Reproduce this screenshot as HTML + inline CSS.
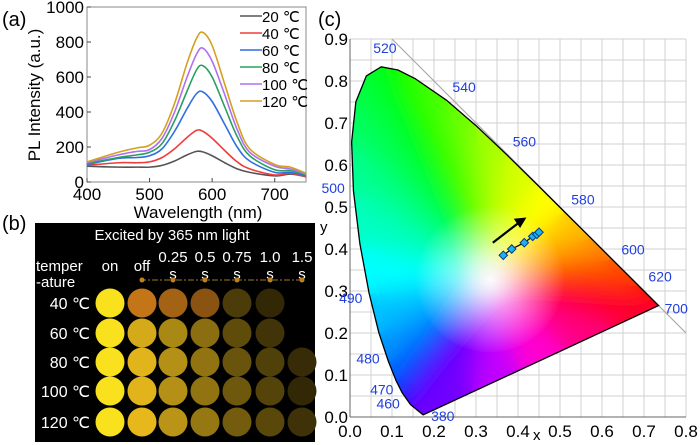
<!DOCTYPE html>
<html><head><meta charset="utf-8"><style>
html,body{margin:0;background:#fff;width:700px;height:445px;overflow:hidden;}
svg{display:block;font-family:"Liberation Sans",sans-serif;}
</style></head><body>
<svg id="s" width="700" height="445" viewBox="0 0 700 445">
<defs>
<filter id="bl" x="0" y="0" width="1" height="1"><feGaussianBlur stdDeviation="12"/></filter>
<clipPath id="lc"><path id="lcp"/></clipPath>
<radialGradient id="wg" gradientUnits="userSpaceOnUse" cx="490" cy="280" r="75"><stop offset="0" stop-color="#fff" stop-opacity="0.95"/><stop offset="1" stop-color="#fff" stop-opacity="0"/></radialGradient>
</defs>
<g id="pa"></g>
<g id="pb"></g>
<g id="pc"></g>
</svg>
<script>
// ---- panel (a) data ----
const wavelengths=[400,450,480,500,520,540,560,575,585,600,620,640,660,700,725,750];
const s20=[90,85,85,85,95,120,155,175,172,150,110,75,55,35,45,30];
const s40=[95,110,110,115,140,190,255,295,290,250,180,115,75,40,50,30];
const s60=[100,135,140,150,190,290,420,505,515,460,330,200,120,55,55,35];
const s80=[105,140,155,170,220,350,520,640,665,600,430,260,150,70,65,40];
const s100=[110,155,175,185,250,400,600,730,765,690,500,300,170,90,75,45];
const s120=[115,170,195,210,280,450,680,820,855,780,560,340,190,100,85,50];
const seriesLabels=["20 ℃","40 ℃","60 ℃","80 ℃","100 ℃","120 ℃"];
const seriesColors=["#555","#f03c3c","#2f6fe0","#2aa060","#b070f0","#d4a020"];
const xTicks=[400,500,600,700];
const yTicks=[0,200,400,600,800,1000];
// ---- panel (b) data ----
const colLabels=["on","off","0.25","0.5","0.75","1.0","1.5"];
const rowLabels=["40 ℃","60 ℃","80 ℃","100 ℃","120 ℃"];
const brightness=[[1,0.78,0.65,0.55,0.3,0.2,0],[1,0.85,0.68,0.55,0.38,0.26,0],[1,0.9,0.72,0.58,0.42,0.32,0.22],[1,0.9,0.72,0.58,0.44,0.34,0.2],[1,0.92,0.74,0.6,0.46,0.36,0.25]];
// ---- panel (c) data ----
const cieX=[0.365,0.385,0.415,0.435,0.445,0.45];
const cieY=[0.385,0.40,0.415,0.43,0.435,0.44];
const cxTicks=[0,0.1,0.2,0.3,0.4,0.5,0.6,0.7,0.8];
const cyTicks=[0,0.1,0.2,0.3,0.4,0.5,0.6,0.7,0.8,0.9];
const locusWl=[380,460,470,475,480,485,490,495,500,505,510,515,520,525,530,540,550,560,570,580,590,600,620,640,700];
const locusX=[0.1741,0.1440,0.1241,0.1096,0.0913,0.0687,0.0454,0.0235,0.0082,0.0039,0.0139,0.0389,0.0743,0.1142,0.1547,0.2296,0.3016,0.3731,0.4441,0.5125,0.5752,0.6270,0.6915,0.7190,0.7347];
const locusY=[0.0050,0.0297,0.0578,0.0868,0.1327,0.2007,0.2950,0.4127,0.5384,0.6548,0.7502,0.8120,0.8338,0.8262,0.8059,0.7543,0.6923,0.6245,0.5547,0.4866,0.4242,0.3725,0.3083,0.2809,0.2653];
const locusCol=["#7000ff","#3000ff","#0030ff","#0060ff","#0090ff","#00c0ff","#00ffff","#00ffc0","#00ff90","#00ff60","#00ff40","#00ff20","#00ff00","#20ff00","#40ff00","#70ff00","#a8ff00","#d8ff00","#ffff00","#ffc000","#ff8800","#ff4400","#ff0000","#ff0010","#ff0020"];
const wlLabels=[380,460,470,480,490,500,520,540,560,580,600,620,700];

const NS="http://www.w3.org/2000/svg";
function mk(p,t,a,txt){const e=document.createElementNS(NS,t);for(const k in a)e.setAttribute(k,a[k]);if(txt!==undefined)e.textContent=txt;p.appendChild(e);return e;}

// ===== panel a =====
const pa=document.getElementById('pa');
const ax=v=>87+(v-400)*(306-87)/350, ay=v=>182-v*(182-7)/1000;
let t=mk(pa,'text',{x:2,y:26,'font-size':20},'(a)');
mk(pa,'rect',{x:87,y:7,width:219,height:175,fill:'none',stroke:'#888','stroke-width':1});
xTicks.forEach(v=>{mk(pa,'line',{x1:ax(v),x2:ax(v),y1:182,y2:178,stroke:'#444'});t=mk(pa,'text',{x:ax(v),y:200,'font-size':17,'text-anchor':'middle'},v);});
yTicks.forEach(v=>{mk(pa,'line',{x1:87,x2:91,y1:ay(v),y2:ay(v),stroke:'#444'});t=mk(pa,'text',{x:84,y:ay(v)+6,'font-size':17,'text-anchor':'end'},v);});
t=mk(pa,'text',{x:198,y:218,'font-size':17,'text-anchor':'middle'},'Wavelength (nm)');
t=mk(pa,'text',{x:0,y:0,'font-size':17,'text-anchor':'middle',transform:'translate(40,95) rotate(-90)'},'PL Intensity (a.u.)');
function smooth(xs,ys){let d=`M${xs[0]},${ys[0]}`;for(let i=0;i<xs.length-1;i++){const x0=xs[Math.max(i-1,0)],y0=ys[Math.max(i-1,0)],x1=xs[i],y1=ys[i],x2=xs[i+1],y2=ys[i+1],x3=xs[Math.min(i+2,xs.length-1)],y3=ys[Math.min(i+2,xs.length-1)];d+=` C${x1+(x2-x0)/6},${y1+(y2-y0)/6} ${x2-(x3-x1)/6},${y2-(y3-y1)/6} ${x2},${y2}`;}return d;}
[s20,s40,s60,s80,s100,s120].forEach((s,i)=>{const p=mk(pa,'path',{d:smooth(wavelengths.map(ax),s.map(ay)),fill:'none',stroke:seriesColors[i],'stroke-width':1.6});
const ly=16+i*17;const g=mk(pa,'g',{});mk(g,'line',{x1:240,x2:262,y1:ly,y2:ly,stroke:seriesColors[i],'stroke-width':1.6});mk(g,'text',{x:262,y:ly+6,'font-size':15},seriesLabels[i]);});

// ===== panel b =====
const pb=document.getElementById('pb');
t=mk(pb,'text',{x:2,y:230,'font-size':20},'(b)');
mk(pb,'rect',{x:35,y:223,width:280,height:219,fill:'#000'});
t=mk(pb,'text',{x:172,y:240,'font-size':15,fill:'#fff','text-anchor':'middle'},'Excited by 365 nm light');
const cx=[110,142,173,205,237,270,302], ry=[303,333,362,391,422];
mk(pb,'text',{x:36,y:271,'font-size':15,fill:'#fff'},'temper');mk(pb,'text',{x:36,y:287,'font-size':15,fill:'#fff'},'-ature');
colLabels.forEach((c,i)=>{if(i<2){t=mk(pb,'text',{x:cx[i],y:271,'font-size':15,fill:'#fff','text-anchor':'middle'},c);}else{t=mk(pb,'text',{x:cx[i],y:262,'font-size':15,fill:'#fff','text-anchor':'middle'},c);mk(pb,'text',{x:cx[i],y:279,'font-size':15,fill:'#fff','text-anchor':'middle'},'s');}});
mk(pb,'line',{x1:140,x2:304,y1:280,y2:280,stroke:'#9a7a20','stroke-dasharray':'6 2 2 2'});
for(let i=1;i<7;i++)mk(pb,'circle',{cx:cx[i],cy:280,r:2.5,fill:'#c08020'});
rowLabels.forEach((r,j)=>{t=mk(pb,'text',{x:90,y:ry[j]+6,'font-size':16,fill:'#fff','text-anchor':'end'},r);
brightness[j].forEach((b,i)=>{if(b<=0)return;const warm=(j===0&&i>0&&i<4)?0.6:(i===0?0.9:0.8);const R=Math.round(250*b),G=Math.round(250*b*warm),B=Math.round(30*b);const c=mk(pb,'circle',{cx:cx[i],cy:ry[j],r:14.5,fill:`rgb(${R},${G},${B})`});});});

// ===== panel c =====
const pc=document.getElementById('pc');
const X=v=>350+v*420, Y=v=>417-v*420;
t=mk(pc,'text',{x:318,y:26,'font-size':20},'(c)');
for(let k=0;k<=16;k++){const v=k*0.05;mk(pc,'line',{x1:X(v),x2:X(v),y1:Y(0.9),y2:Y(0),stroke:'#d0d0d0'});}
for(let k=0;k<=18;k++){const v=k*0.05;mk(pc,'line',{x1:X(0),x2:X(0.8),y1:Y(v),y2:Y(v),stroke:'#d0d0d0'});}
cxTicks.forEach(v=>{t=mk(pc,'text',{x:X(v),y:437,'font-size':17,'text-anchor':'middle'},v.toFixed(1));});
cyTicks.forEach(v=>{t=mk(pc,'text',{x:348,y:Y(v)+6,'font-size':17,'text-anchor':'end'},v.toFixed(1));});
mk(pc,'line',{x1:X(0),x2:X(0),y1:Y(0.9),y2:Y(0),stroke:'#666'});mk(pc,'line',{x1:X(0),x2:X(0.8),y1:Y(0),y2:Y(0),stroke:'#666'});
t=mk(pc,'text',{x:533,y:440,'font-size':15},'x');
t=mk(pc,'text',{x:320,y:232,'font-size':15},'y');
mk(pc,'line',{x1:X(0.1),y1:Y(0.9),x2:X(0.8),y2:Y(0.2),stroke:'#aaa','stroke-width':1.2});
let d=locusX.map((x,i)=>(i?'L':'M')+X(x)+','+Y(locusY[i])).join('')+'Z';
document.getElementById('lcp').setAttribute('d',d);
const fill=mk(pc,'g',{'clip-path':'url(#lc)'});
const wx=X(0.333),wy=Y(0.333);
const S=1.05;
function drawFan(g){
for(let i=0;i<locusX.length-1;i++){const dx=X(locusX[i])-wx,dy=Y(locusY[i])-wy,dx2=X(locusX[i+1])-wx,dy2=Y(locusY[i+1])-wy;mk(g,'polygon',{points:`${wx},${wy} ${wx+dx*S},${wy+dy*S} ${wx+dx2*S},${wy+dy2*S}`,fill:locusCol[i],stroke:locusCol[i],'stroke-width':2});}
const pur=["#ff0030","#ff0080","#ff00d0","#c000ff","#7000ff"];
for(let k=0;k<5;k++){const a=k/5,b=(k+1)/5;const x1=0.7347+(0.1741-0.7347)*a,y1=0.2653+(0.005-0.2653)*a,x2=0.7347+(0.1741-0.7347)*b,y2=0.2653+(0.005-0.2653)*b;const dx=X(x1)-wx,dy=Y(y1)-wy,dx2=X(x2)-wx,dy2=Y(y2)-wy;mk(g,'polygon',{points:`${wx},${wy} ${wx+dx*S},${wy+dy*S} ${wx+dx2*S},${wy+dy2*S}`,fill:pur[k],stroke:pur[k],'stroke-width':2});}
}
drawFan(mk(fill,'g',{}));
drawFan(mk(fill,'g',{filter:'url(#bl)'}));
mk(fill,'circle',{cx:wx,cy:wy,r:75,fill:'url(#wg)'});
const lp=mk(pc,'path',{d:d,fill:'none',stroke:'#000','stroke-width':1.3});
const lblOff={380:[8,6],460:[-34,4],470:[-32,2],480:[-32,2],490:[-30,10],500:[-32,2],520:[-8,-14],540:[6,-8],560:[6,-8],580:[6,-8],600:[8,-6],620:[8,-6],700:[6,8]};
wlLabels.forEach(w=>{const i=locusWl.indexOf(w);const o=lblOff[w];t=mk(pc,'text',{x:X(locusX[i])+o[0],y:Y(locusY[i])+o[1],'font-size':14,fill:'#2040e0'},w);});
const ar=mk(pc,'g',{});
mk(ar,'line',{x1:X(0.34),y1:Y(0.415),x2:X(0.405),y2:Y(0.465),stroke:'#000','stroke-width':2.2});
mk(ar,'polygon',{points:`${X(0.42)},${Y(0.475)} ${X(0.39)},${Y(0.472)} ${X(0.405)},${Y(0.45)}`,fill:'#000'});
mk(pc,'polyline',{points:cieX.map((x,i)=>X(x)+','+Y(cieY[i])).join(' '),fill:'none',stroke:'#000','stroke-width':1.2});
cieX.forEach((x,i)=>{const p=mk(pc,'rect',{x:X(x)-3,y:Y(cieY[i])-3,width:6,height:6,fill:'#20b0f0',stroke:'#004080','stroke-width':1,transform:`rotate(45 ${X(x)} ${Y(cieY[i])})`});});
</script>
</body></html>
